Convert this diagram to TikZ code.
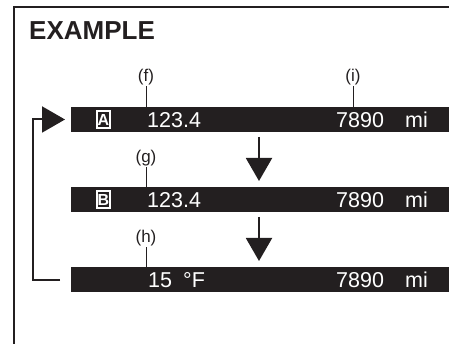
\documentclass[tikz,border=0pt]{standalone}
\usepackage{fontspec}
\setmainfont{Liberation Sans}
\usetikzlibrary{arrows.meta,calc}
\definecolor{ink}{HTML}{231F20}
\begin{document}
\begin{tikzpicture}[x=1pt,y=-1pt,
 bar/.style={fill=ink,minimum width=390pt,minimum height=25pt,anchor=west,inner sep=0pt,outer sep=0pt},
 lcd/.style={text=white,font=\fontsize{21.5}{21.5}\selectfont,anchor=base west,inner sep=0pt},
 lbl/.style={font=\fontsize{17}{17}\selectfont,inner sep=1pt,text=ink},
 leader/.style={draw=ink,line width=0.9pt},
 flow/.style={draw=ink,line width=2pt,-{Triangle[width=26pt,length=23pt]}},
 icon/.style={draw=white,line width=1.2pt,text=white,font=\bfseries\fontsize{16}{16}\selectfont,minimum width=13pt,minimum height=17pt,inner sep=0pt}]
\useasboundingbox (0,0) rectangle (449,344);
\draw[ink,line width=2pt] (14,350) -- (14,7) -- (460,7);
\node[anchor=base west,font=\bfseries\fontsize{26}{26}\selectfont,inner sep=0pt,text=ink] (title) at (29,39.5) {EXAMPLE};
% bars
\node[bar] (bar1) at (71,119.5) {};
\node[bar] (bar2) at (71,199.5) {};
\node[bar] (bar3) at (71,279.5) {};
% bar 1
\node[icon] (iA) at (103.5,119.5) {A};
\node[lcd] (v1) at (147,127.5) {123.4};
\node[lcd] (o1) at (336,127.5) {7890};
\node[lcd] (m1) at (405,127.5) {mi};
% bar 2
\node[icon] (iB) at (103.5,199.5) {B};
\node[lcd] (v2) at (147,207.5) {123.4};
\node[lcd] (o2) at (336,207.5) {7890};
\node[lcd] (m2) at (405,207.5) {mi};
% bar 3
\node[lcd] (v3) at (148,287.5) {15};
\node[lcd] (t3) at (183,287.5) {°F};
\node[lcd] (o3) at (336,287.5) {7890};
\node[lcd] (m3) at (405,287.5) {mi};
% labels
\node[lbl] (f) at (146,77) {(f)};
\node[lbl] (i) at (353,77) {(i)};
\node[lbl] (g) at (146,158) {(g)};
\node[lbl] (h) at (146,238) {(h)};
\draw[leader] (f.south) -- (f.south |- bar1.north);
\draw[leader] (i.south) -- (i.south |- bar1.north);
\draw[leader] (g.south) -- (g.south |- bar2.north);
\draw[leader] (h.south) -- (h.south |- bar3.north);
% down arrows
\coordinate (d1s) at (259,137);
\coordinate (d1e) at (259,181);
\coordinate (d2s) at (259,217);
\coordinate (d2e) at (259,261);
\draw[flow] (d1s) -- (d1e);
\draw[flow] (d2s) -- (d2e);
% loop back
\coordinate (lb) at ([xshift=-11pt]bar3.west);
\coordinate (lt) at ([xshift=-6pt]bar1.west);
\draw[flow] (lb) -- ++(-27,0) |- (lt);
\end{tikzpicture}
\end{document}
